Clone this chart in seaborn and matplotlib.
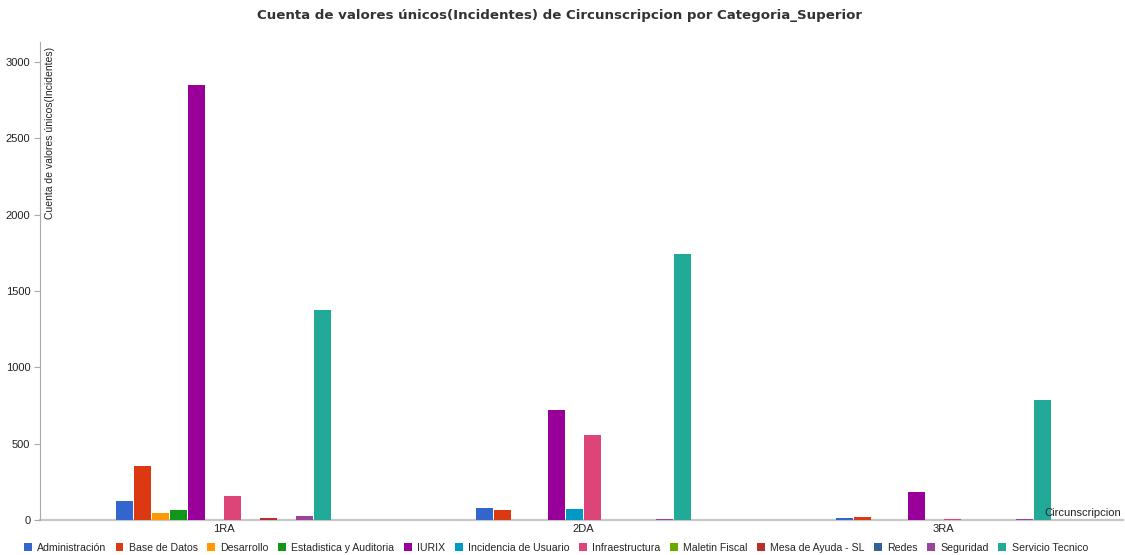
import numpy as np
import pandas as pd
import seaborn as sns
import matplotlib.pyplot as plt

#%% data
circunscripciones = ['1RA', '2DA', '3RA']
categorias = ['Administración', 'Base de Datos', 'Desarrollo', 'Estadistica y Auditoria',
              'IURIX', 'Incidencia de Usuario', 'Infraestructura', 'Maletin Fiscal',
              'Mesa de Ayuda - SL', 'Redes', 'Seguridad', 'Servicio Tecnico']

# one list per circunscripcion, in the order of categorias
vals_1ra = [124, 354, 44, 63, 2850, 0, 157, 0, 10, 0, 26, 1374]
vals_2da = [80, 63, 0, 0, 720, 72, 557, 0, 0, 0, 8, 1742]
vals_3ra = [12, 18, 0, 0, 182, 0, 7, 0, 0, 0, 7, 786]

colores = ['#3366cc', '#dc3912', '#ff9900', '#109618', '#990099', '#0099c6',
           '#dd4477', '#66aa00', '#b82e2e', '#316395', '#994499', '#22aa99']

#%% long table for seaborn
da = pd.DataFrame({
    'Circunscripcion': np.repeat(circunscripciones, len(categorias)),
    'Categoria_Superior': categorias * len(circunscripciones),
    'Incidentes': vals_1ra + vals_2da + vals_3ra,
})

#%% context
sns.set_theme(style="white")
plt.rcParams['font.family'] = ['Liberation Sans', 'DejaVu Sans']

fig = plt.figure(figsize=(11.25, 5.55), dpi=100)
ax = fig.add_axes([40 / 1125, 1 - 520 / 555, 1083 / 1125, (520 - 42) / 555])

sns.barplot(data=da, x='Circunscripcion', y='Incidentes', hue='Categoria_Superior',
            hue_order=categorias, palette=colores, order=circunscripciones,
            width=0.6, gap=0.06, linewidth=0, saturation=1, ax=ax)

ax.set_xlim(-0.51, 2.5)
ax.set_ylim(0, 3130)
ax.set_yticks(np.arange(0, 3001, 500))
ax.set_xlabel('')
ax.set_ylabel('')
ax.tick_params(axis='y', labelsize=8, colors='#222222', length=4, width=0.8,
               left=True, pad=3)
ax.tick_params(axis='y', color='#aaaaaa')
ax.tick_params(axis='x', labelsize=8, colors='#222222', length=0, pad=3)

for s in ['top', 'right']:
    ax.spines[s].set_visible(False)
ax.spines['left'].set_color('#aaaaaa')
ax.spines['left'].set_linewidth(0.8)
ax.spines['bottom'].set_color('#c8c8c8')
ax.spines['bottom'].set_linewidth(1.6)
ax.spines['bottom'].set_zorder(0.5)

# axis titles drawn inside the plot area
ax.text(0.009, 0.99, 'Cuenta de valores únicos(Incidentes)', rotation=90,
        va='top', ha='center', fontsize=7.5, color='#222222', transform=ax.transAxes)
ax.text(0.9985, 0.004, 'Circunscripcion', ha='right', va='bottom',
        fontsize=8, color='#222222', transform=ax.transAxes)

fig.text(0.497, 1 - 16 / 555, 'Cuenta de valores únicos(Incidentes) de Circunscripcion por Categoria_Superior',
         ha='center', va='center', fontsize=9.6, fontweight='bold', color='#333333',
         family=['DejaVu Sans'])

#%% legend along the bottom
handles, labels = ax.get_legend_handles_labels()
ax.get_legend().remove()
fig.legend(handles, labels, loc='center', bbox_to_anchor=(0.494, 1 - 548 / 555),
           ncol=len(categorias), frameon=False, fontsize=7.6,
           handlelength=0.75, handleheight=0.75, handletextpad=0.5,
           columnspacing=0.9, borderaxespad=0)

plt.savefig('out.png', dpi=100)
